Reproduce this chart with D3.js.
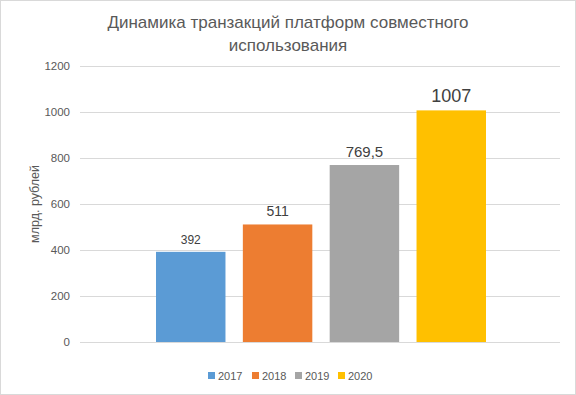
<!DOCTYPE html>
<html>
<head>
<meta charset="utf-8">
<script src="https://cdn.jsdelivr.net/npm/d3@7"></script>
<style>
  body { margin: 0; background: #fff; }
  svg { display: block; font-family: "Liberation Sans", Arial, sans-serif; }
</style>
</head>
<body>
<svg id="chart" width="576" height="395"></svg>
<script>
// data
const years = ["2017", "2018", "2019", "2020"];
const values = [392, 511, 769.5, 1007];
const yTicks = [0, 200, 400, 600, 800, 1000, 1200];
const titleLines = ["Динамика транзакций платформ совместного", "использования"];
const yTitle = "млрд. рублей";

// Excel-ish palette and per-label font sizes (labels grow in the original)
const colors = ["#5B9BD5", "#ED7D31", "#A5A5A5", "#FFC000"];
const labelSize = [12, 14, 15, 18];

const W = 576, H = 395;
const svg = d3.select("#chart");

// chart border
svg.append("rect")
  .attr("x", 0.5).attr("y", 0.5)
  .attr("width", W - 1).attr("height", H - 1)
  .attr("fill", "#fff").attr("stroke", "#d9d9d9");

const plot = { left: 80, right: 560, top: 66, bottom: 342 };

var y = d3.scaleLinear().domain([0, 1200]).range([plot.bottom, plot.top]);

// one category, four series side by side
var x = d3.scaleBand().domain(years).range([156, 486]).paddingInner(0.2).paddingOuter(0);

// gridlines
svg.append("g").selectAll("line")
  .data(yTicks)
  .enter().append("line")
    .attr("x1", plot.left).attr("x2", plot.right)
    .attr("y1", d => Math.round(y(d)) + 0.5)
    .attr("y2", d => Math.round(y(d)) + 0.5)
    .attr("stroke", "#d9d9d9");

// y axis labels
var yAxis = d3.axisLeft(y).tickValues(yTicks).tickFormat(d3.format("d")).tickSize(0).tickPadding(0);
var ga = svg.append("g").attr("transform", "translate(70,0)").call(yAxis);
ga.select(".domain").remove();
ga.selectAll("text")
  .attr("fill", "#595959")
  .style("font-size", "11.5px")
  .style("font-family", "Liberation Sans, Arial, sans-serif");

// bars
svg.append("g").selectAll("rect")
  .data(values)
  .enter().append("rect")
    .attr("x", (d, i) => x(years[i]))
    .attr("y", d => y(d))
    .attr("width", x.bandwidth())
    .attr("height", d => y(0) - y(d))
    .attr("fill", (d, i) => colors[i]);

// value labels
svg.append("g").selectAll("text")
  .data(values)
  .enter().append("text")
    .attr("x", (d, i) => x(years[i]) + x.bandwidth() / 2)
    .attr("y", d => y(d) - 8)
    .attr("text-anchor", "middle")
    .attr("fill", "#404040")
    .style("font-size", (d, i) => labelSize[i] + "px")
    .text(d => String(d).replace(".", ","));

// title
svg.append("text")
  .attr("text-anchor", "middle")
  .attr("fill", "#595959")
  .style("font-size", "17px")
  .selectAll("tspan")
  .data(titleLines)
  .enter().append("tspan")
    .attr("x", 288)
    .attr("y", (d, i) => 28 + i * 23)
    .text(d => d);

// y axis title
svg.append("text")
  .attr("transform", "translate(39," + ((plot.top + plot.bottom) / 2) + ") rotate(-90)")
  .attr("text-anchor", "middle")
  .attr("fill", "#595959")
  .style("font-size", "12.5px")
  .text(yTitle);

// legend
var legX = [208, 252, 295, 338];
var leg = svg.append("g").selectAll("g")
  .data(years)
  .enter().append("g")
    .attr("transform", (d, i) => "translate(" + legX[i] + ",372)");
leg.append("rect")
  .attr("width", 7).attr("height", 7)
  .attr("fill", (d, i) => colors[i]);
leg.append("text")
  .attr("x", 10).attr("y", 7.5)
  .attr("fill", "#595959")
  .style("font-size", "11px")
  .text(d => d);
</script>
</body>
</html>
